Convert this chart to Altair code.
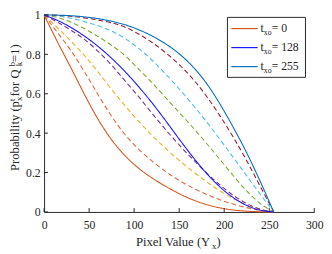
import altair as alt
import pandas as pd

# ---------------- data ----------------
x_vals = [0, 15, 30, 45, 60, 75, 90, 105, 120, 135, 150, 165, 180, 195, 210, 225, 240, 255]

p_t0   = [1, 0.862, 0.73, 0.595, 0.47, 0.366, 0.285, 0.222, 0.172, 0.13, 0.093, 0.062, 0.038, 0.021, 0.01, 0.004, 0.001, 0]
p_d1   = [1, 0.91, 0.818, 0.71, 0.595, 0.485, 0.392, 0.318, 0.258, 0.205, 0.16, 0.122, 0.09, 0.062, 0.04, 0.022, 0.009, 0]
p_d2   = [1, 0.935, 0.866, 0.793, 0.71, 0.622, 0.538, 0.46, 0.388, 0.322, 0.262, 0.206, 0.155, 0.108, 0.068, 0.036, 0.013, 0]
p_d3   = [1, 0.963, 0.922, 0.875, 0.815, 0.745, 0.665, 0.585, 0.5, 0.418, 0.34, 0.268, 0.2, 0.138, 0.085, 0.043, 0.014, 0]
p_t128 = [1, 0.972, 0.936, 0.892, 0.84, 0.78, 0.712, 0.636, 0.553, 0.463, 0.37, 0.28, 0.198, 0.128, 0.073, 0.033, 0.009, 0]
p_d4   = [1, 0.987, 0.963, 0.93, 0.89, 0.845, 0.793, 0.725, 0.655, 0.58, 0.505, 0.43, 0.35, 0.268, 0.185, 0.107, 0.043, 0]
p_d5   = [1, 0.995, 0.983, 0.966, 0.945, 0.918, 0.88, 0.83, 0.77, 0.70, 0.625, 0.545, 0.46, 0.37, 0.277, 0.183, 0.09, 0]
p_d6   = [1, 0.998, 0.993, 0.985, 0.974, 0.96, 0.938, 0.903, 0.86, 0.808, 0.748, 0.676, 0.59, 0.49, 0.38, 0.26, 0.13, 0]
p_t255 = [1, 0.999, 0.996, 0.99, 0.981, 0.968, 0.95, 0.925, 0.893, 0.853, 0.803, 0.738, 0.655, 0.55, 0.43, 0.30, 0.155, 0]

series_names  = ["d1", "d2", "d3", "d4", "d5", "d6", "t0", "t128", "t255"]
series_values = [p_d1, p_d2, p_d3, p_d4, p_d5, p_d6, p_t0, p_t128, p_t255]
series_styles = ["dash", "dash", "dash", "dash", "dash", "dash", "solid", "solid", "solid"]
series_colors = ["#E0663A", "#EDB120", "#7E2F8E", "#77AC30", "#4DBEEE", "#A2142F",
                 "#D95319", "#1818FF", "#0072BD"]

x_ticks = [0, 50, 100, 150, 200, 250, 300]
y_ticks = [0, 0.2, 0.4, 0.6, 0.8, 1]

legend_labels = ["0", "128", "255"]
legend_colors = ["#D95319", "#1818FF", "#0072BD"]

# ---------------- build table ----------------
rows = []
for name, vals, style in zip(series_names, series_values, series_styles):
    for x, p in zip(x_vals, vals):
        rows.append({"series": name, "x": x, "p": p, "style": style})
df = pd.DataFrame(rows)

W, H = 277, 202
FONT = "Liberation Serif"
AX = "#262626"

# Times metrics for positioning rich-text pieces
TW = {'P': 556, 'r': 333, 'o': 500, 'b': 500, 'a': 444, 'i': 278, 'l': 278, 't': 278, 'y': 500,
      ' ': 250, '(': 333, ')': 333, 'p': 500, 'f': 333, 'Q': 722, '=': 564, '1': 500, '2': 500,
      '5': 500, '8': 500, '0': 500, 'x': 500, 'k': 500, 'e': 444, 'V': 722, 'u': 500, 'Y': 722}


def tw(s, fs):
    return sum(TW.get(c, 500) for c in s) * fs / 1000.0


one = pd.DataFrame({"a": [0]})


def piece(s, x, y, size, angle=0):
    return alt.Chart(one).mark_text(
        text=s, font=FONT, fontSize=size, align="left", baseline="alphabetic",
        angle=angle, color=AX
    ).encode(x=alt.value(x), y=alt.value(y))


xscale = alt.Scale(domain=[0, 300], nice=False, zero=False)
yscale = alt.Scale(domain=[0, 1], nice=False)

xaxis = alt.Axis(values=x_ticks, ticks=False, grid=False, title=None,
                 domainColor=AX, domainWidth=1, labelColor=AX, labelFont=FONT,
                 labelFontSize=12, labelPadding=8, labelFlush=False, labelOverlap=False)
yaxis = alt.Axis(values=y_ticks, format="~g", ticks=False, grid=False, title=None,
                 domainColor=AX, domainWidth=1, labelColor=AX, labelFont=FONT,
                 labelFontSize=12, labelPadding=4, labelFlush=False, labelOverlap=False)

lines = alt.Chart(df).mark_line(strokeWidth=1.1, interpolate="monotone").encode(
    x=alt.X("x:Q", scale=xscale, axis=xaxis),
    y=alt.Y("p:Q", scale=yscale, axis=yaxis),
    color=alt.Color("series:N", scale=alt.Scale(domain=series_names, range=series_colors),
                    legend=None),
    strokeDash=alt.StrokeDash("style:N",
                              scale=alt.Scale(domain=["solid", "dash"], range=[[1, 0], [5, 3]]),
                              legend=None),
)

xt = alt.Chart(pd.DataFrame({"x": x_ticks})).mark_rule(color=AX, strokeWidth=1).encode(
    x=alt.X("x:Q", scale=xscale, axis=xaxis), y=alt.value(H), y2=alt.value(H - 4))
yt = alt.Chart(pd.DataFrame({"p": y_ticks})).mark_rule(color=AX, strokeWidth=1).encode(
    y=alt.Y("p:Q", scale=yscale, axis=yaxis), x=alt.value(0), x2=alt.value(4))

layers = [lines, xt, yt]

# ---------------- legend (manual, with subscripts) ----------------
box = alt.Chart(one).mark_rect(fill="white", stroke=AX, strokeWidth=1).encode(
    x=alt.value(188), x2=alt.value(268), y=alt.value(2.5), y2=alt.value(64))
layers.append(box)
row_y = [14, 33.5, 53]
for lab, col, ry in zip(legend_labels, legend_colors, row_y):
    layers.append(alt.Chart(one).mark_rule(color=col, strokeWidth=1.2).encode(
        x=alt.value(192), x2=alt.value(219), y=alt.value(ry)))
    bx = 222
    by = ry + 3
    layers.append(piece("t", bx, by, 12))
    layers.append(piece("xo", bx + tw("t", 12), by + 3.5, 8))
    layers.append(piece(" = " + lab, bx + tw("t", 12) + tw("xo", 8), by, 12))

# ---------------- x title ----------------
xs_main, xs_sub, xs_end = "Pixel Value (Y", "x", ")"
FS, SS = 13, 9
xt_w = tw(xs_main, FS) + tw(xs_sub, SS) + tw(xs_end, FS)
x0 = 137.6 - xt_w / 2
xb = 236.5
layers.append(piece(xs_main, x0, xb, FS))
layers.append(piece(xs_sub, x0 + tw(xs_main, FS), xb + 3.5, SS))
layers.append(piece(xs_end, x0 + tw(xs_main, FS) + tw(xs_sub, SS), xb, FS))

# ---------------- y title (rotated) ----------------
A, B, C = "Probability (p", " for Q", "=1)"
yt_len = tw(A, FS) + tw("x", SS) + tw(B, FS) + tw("k", SS) + tw(C, FS)
ybx = -25.5
y0 = 95 + yt_len / 2
pos = y0
layers.append(piece(A, ybx, pos, FS, 270))
pos -= tw(A, FS)
layers.append(piece("t", ybx - 4, pos, SS, 270))
layers.append(piece("x", ybx + 3, pos, SS, 270))
pos -= tw("x", SS)
layers.append(piece(B, ybx, pos, FS, 270))
pos -= tw(B, FS)
layers.append(piece("b", ybx - 4, pos, SS, 270))
layers.append(piece("k", ybx + 3, pos, SS, 270))
pos -= tw("k", SS)
layers.append(piece(C, ybx, pos, FS, 270))

chart = alt.layer(*layers).properties(
    width=W, height=H,
    padding={"left": 37, "top": 4, "right": 10, "bottom": 40},
    autosize=alt.AutoSizeParams(type="none"),
    background="white",
).configure_view(stroke=None)

chart.save("out.html", embed_options={"renderer": "svg", "actions": False})
